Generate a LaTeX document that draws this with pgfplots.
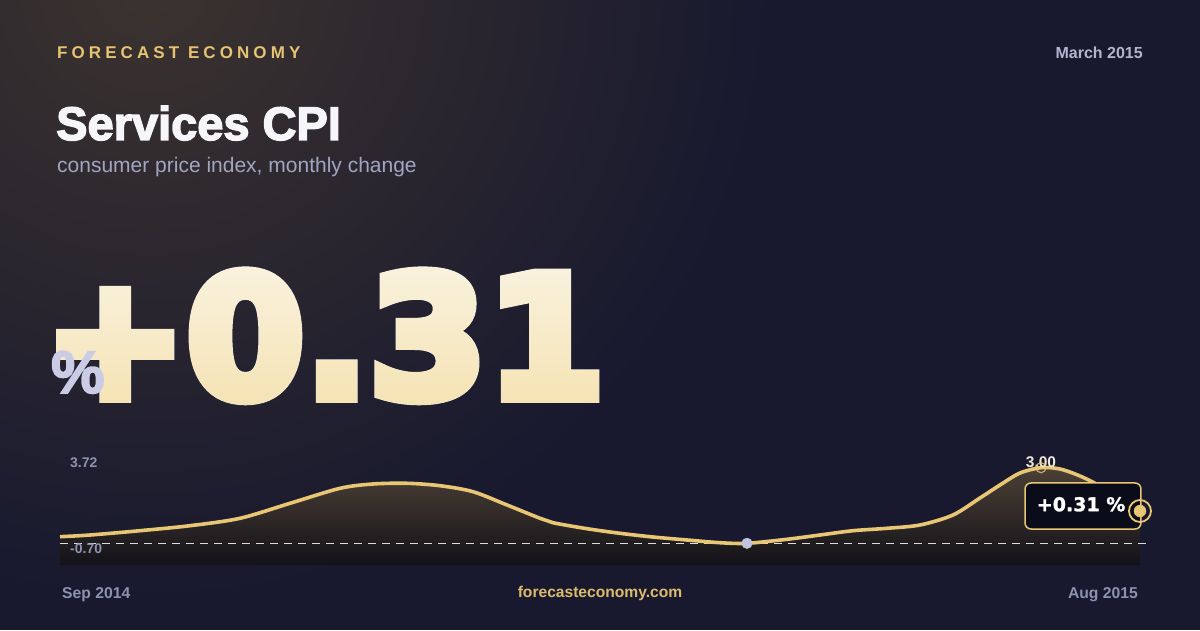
\documentclass[border=0pt]{standalone}
\usepackage{pgfplots}
\pgfplotsset{compat=1.18}
\usepackage{pgfplotstable}
\usepackage{fontspec}
\setmainfont{Liberation Sans}
\newfontfamily\heavy{Liberation Sans}[BoldFeatures={FakeBold=3}]
\newfontfamily\bignumfont{DejaVu Sans}[BoldFeatures={FakeBold=7}]
\newfontfamily\badgefont{DejaVu Sans}[BoldFeatures={FakeBold=1.5}]
\newfontfamily\spaced{Liberation Sans}[LetterSpace=24]

\definecolor{bg}{HTML}{18192F}
\definecolor{glow}{HTML}{3C332F}
\definecolor{gold}{HTML}{E9C674}
\definecolor{goldtxt}{HTML}{E6C372}
\definecolor{footgold}{HTML}{DCBC6C}
\definecolor{numtop}{HTML}{FBFAF6}
\definecolor{numbot}{HTML}{F3DB9C}
\definecolor{pct}{HTML}{C9CCE4}
\definecolor{titlec}{HTML}{F6F6FA}
\definecolor{subc}{HTML}{A2A5C2}
\definecolor{labc}{HTML}{8E92B0}
\definecolor{datec}{HTML}{B2B5CE}
\definecolor{lav}{HTML}{C0C4DC}
\definecolor{areatop}{HTML}{4C4036}
\definecolor{areabot}{HTML}{131219}
\definecolor{badge}{HTML}{0B0C1A}
\definecolor{peakc}{HTML}{EFE8D6}

% services CPI, x = months since Sep 2014, y = monthly change (%)
\pgfplotstableread{
x       y
0.000  -0.377
0.306  -0.294
0.815  -0.083
1.324   0.161
1.833   0.524
2.343   1.258
2.852   1.992
3.188   2.203
3.534   2.237
3.870   2.119
4.207   1.826
4.553   1.175
4.889   0.524
5.021   0.308
5.368   0.015
5.704  -0.211
6.040  -0.392
6.386  -0.538
6.722  -0.671
6.997  -0.700
7.405  -0.504
7.741  -0.294
8.077  -0.083
8.423   0.034
8.759   0.196
9.095   0.685
9.370   1.517
9.574   2.154
9.778   2.741
9.992   3.000
10.185  2.937
10.389  2.594
10.592  2.105
10.796  1.468
11.000  0.881
}\cpi

\begin{document}
\begin{tikzpicture}[x=1pt,y=1pt]
% background
\fill[bg] (0,0) rectangle (1200,630);
\begin{scope}
  \clip (0,0) rectangle (1200,630);
  \shade[inner color=glow, outer color=bg] (150,650) circle (620);
\end{scope}
\path[use as bounding box] (0,0) rectangle (1200,630);

% header
\node[inner sep=0, anchor=base west, text=goldtxt]
  at (57,571) {\fontsize{17}{17}\selectfont\spaced\bfseries FORECAST ECONOMY};
\node[inner sep=0, anchor=base east, text=datec]
  at (1143,571) {\fontsize{16}{16}\selectfont\bfseries March 2015};
\node[inner sep=0, anchor=base west, text=titlec]
  at (56,490) {\fontsize{47}{47}\selectfont\heavy\bfseries Services CPI};
\node[inner sep=0, anchor=base west, text=subc]
  at (57,457) {\fontsize{21}{21}\selectfont consumer price index, monthly change};

% big number, white, then tinted towards gold at the bottom
\node[inner sep=0, anchor=base west, text=numtop, xscale=1.01]
  at (44,233) {\fontsize{168}{168}\selectfont\bignumfont\bfseries +0.31};
\begin{scope}
  \clip (30,200) rectangle (640,410);
  \shade[blend mode=darken, top color=numtop, bottom color=numbot]
    (30,144) rectangle (640,448);
\end{scope}
\node[inner sep=0, anchor=base west, text=pct]
  at (51,237) {\fontsize{60}{60}\selectfont\heavy\bfseries\%};

% sparkline
\begin{axis}[
  at={(60pt,65pt)}, anchor=south west,
  scale only axis, width=1080pt, height=125pt,
  xmin=0, xmax=11, ymin=-1.762, ymax=4.356,
  axis lines=none, clip=false]
\addplot[draw=none, top color=areatop, bottom color=areabot, smooth]
  table[x=x, y=y] {\cpi} -- (axis cs:11,-1.762) -- (axis cs:0,-1.762) -- cycle;
\addplot[white, opacity=0.85, line width=1pt, dash pattern=on 8pt off 6pt]
  coordinates {(0,-0.72) (11.06,-0.72)};
\addplot[gold, line width=3.6pt, smooth, line join=round] table[x=x, y=y] {\cpi};
% peak label and marker
\node[anchor=base, inner sep=0, text=peakc]
  at (axis cs:9.992,3.00) {\fontsize{15.5}{15.5}\selectfont\bfseries 3.00};
\addplot[only marks, mark=o, mark size=5pt, gold, line width=1.2pt, opacity=0.8]
  coordinates {(9.992,3.00)};
% min marker
\addplot[only marks, mark=*, mark size=5.3pt, lav, draw=lav]
  coordinates {(6.997,-0.70)};
% badge
\draw[rounded corners=6pt, fill=badge, draw=gold, line width=1.5pt]
  (axis cs:9.829,0.0) rectangle (axis cs:11.01,2.252);
\node[anchor=center, inner sep=0, text=white]
  at (axis cs:10.400,1.209) {\fontsize{19}{19}\selectfont\badgefont\bfseries +0.31 \%};
% last value marker
\addplot[only marks, mark=*, mark size=6pt, gold, draw=gold]
  coordinates {(11,0.881)};
\addplot[only marks, mark=o, mark size=11pt, gold, line width=1.8pt]
  coordinates {(11,0.881)};
\end{axis}

% axis range labels and footer
\node[inner sep=0, anchor=base west, text=labc]
  at (70,163) {\fontsize{14}{14}\selectfont\bfseries 3.72};
\node[inner sep=0, anchor=base west, text=labc]
  at (70,77) {\fontsize{14}{14}\selectfont\bfseries -0.70};
\node[inner sep=0, anchor=base west, text=labc]
  at (62,32) {\fontsize{15.7}{15.7}\selectfont\bfseries Sep 2014};
\node[inner sep=0, anchor=base east, text=labc]
  at (1138,32) {\fontsize{15.7}{15.7}\selectfont\bfseries Aug 2015};
\node[inner sep=0, anchor=base, text=footgold]
  at (600,33) {\fontsize{15.6}{15.6}\selectfont\bfseries forecasteconomy.com};
\end{tikzpicture}
\end{document}
